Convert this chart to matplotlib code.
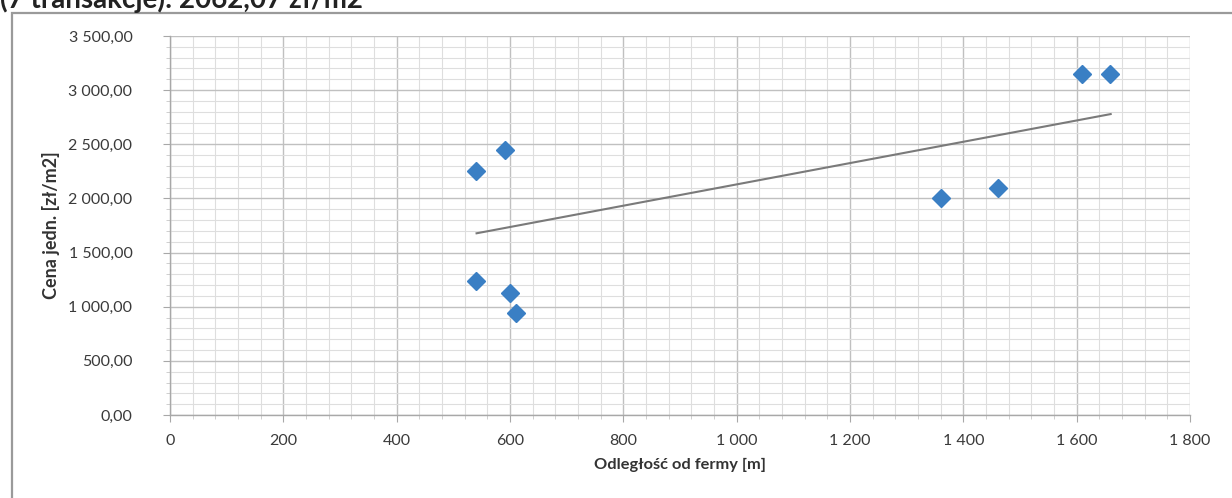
import numpy as np
import matplotlib.pyplot as plt
from matplotlib.ticker import MultipleLocator, FuncFormatter

# Transakcje: odległość od fermy [m] i cena jednostkowa [zł/m2]
odleglosc = [540, 591, 540, 600, 610, 1360, 1461, 1609, 1659]
cena = [2250, 2450, 1240, 1130, 940, 2000, 2100, 3150, 3150]

# Linia trendu
trend_x = [541, 1660]
trend_y = [1678, 2779]

naglowek = "(7 transakcje): 2062,07 zł/m2"

plt.rcParams['font.family'] = ['Lato', 'DejaVu Sans']

fig = plt.figure(figsize=(12.32, 4.98), dpi=100)
ax = fig.add_axes([170 / 1232, 83 / 498, 1020 / 1232, 379 / 498])

# ramka wykresu
fig.patches.append(plt.Rectangle((12 / 1232, -0.1), 1.2, (498 - 13) / 498 + 0.1,
                                 transform=fig.transFigure, fill=False,
                                 edgecolor='#9a9a9a', linewidth=1.6))

fig.text(0.0, 1 - 8 / 498, naglowek, fontsize=20, fontweight='bold',
         color='#222222', ha='left', va='baseline')

ax.plot(trend_x, trend_y, color='#7a7a7a', linewidth=1.5, zorder=2)
ax.plot(odleglosc, cena, linestyle='none', marker='D', markersize=9.5,
        color='#3a7fc4', markeredgecolor='#3a7fc4', zorder=3)

ax.set_xlim(0, 1800)
ax.set_ylim(0, 3500)
ax.xaxis.set_major_locator(MultipleLocator(200))
ax.xaxis.set_minor_locator(MultipleLocator(40))
ax.yaxis.set_major_locator(MultipleLocator(500))
ax.yaxis.set_minor_locator(MultipleLocator(100))


def fmt_y(v, pos):
    return f"{v:,.2f}".replace(",", " ").replace(".", ",")


def fmt_x(v, pos):
    return f"{int(v):,}".replace(",", " ")


ax.yaxis.set_major_formatter(FuncFormatter(fmt_y))
ax.xaxis.set_major_formatter(FuncFormatter(fmt_x))

ax.grid(which='major', color='#c0c0c0', linewidth=1.0)
ax.grid(which='minor', color='#dedede', linewidth=0.8)
ax.set_axisbelow(True)

for s in ['top', 'right']:
    ax.spines[s].set_visible(False)
for s in ['left', 'bottom']:
    ax.spines[s].set_color('#a8a8a8')
    ax.spines[s].set_linewidth(1.0)

ax.tick_params(which='major', direction='out', length=5, color='#a8a8a8',
               labelsize=11.5, labelcolor='#3a3a3a', pad=6)
ax.tick_params(which='minor', direction='out', length=3, color='#c8c8c8')
ax.tick_params(axis='x', pad=9)
ax.tick_params(axis='y', pad=22)

ax.set_xlabel('Odległość od fermy [m]', fontsize=11.8, fontweight='bold',
              color='#333333', labelpad=7)
ax.set_ylabel('Cena jedn. [zł/m2]', fontsize=13, fontweight='bold',
              color='#333333', labelpad=6)

fig.savefig('out.png', dpi=100)
